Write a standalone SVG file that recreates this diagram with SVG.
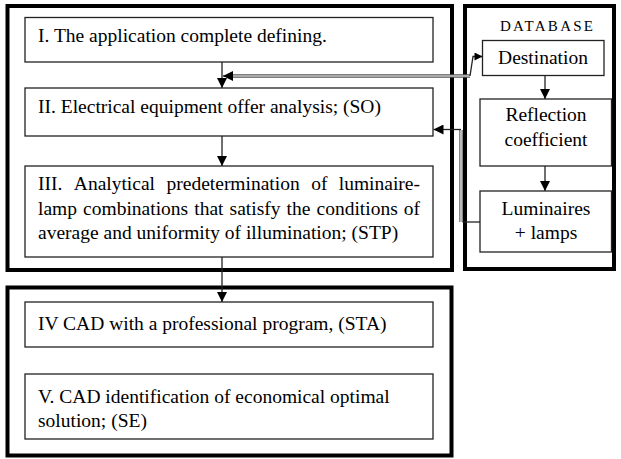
<svg xmlns="http://www.w3.org/2000/svg" width="621" height="459" viewBox="0 0 621 459">
  <defs>
    <marker id="arrow" viewBox="0 0 10 10" markerUnits="userSpaceOnUse" markerWidth="10" markerHeight="10" refX="10" refY="5" orient="auto">
      <path d="M0,0 L10,5 L0,10 z" fill="#000"/>
    </marker>
    <marker id="arrowSmall" viewBox="0 0 10 10" markerUnits="userSpaceOnUse" markerWidth="9" markerHeight="8" refX="10" refY="5" orient="auto">
      <path d="M0,0 L10,5 L0,10 z" fill="#000"/>
    </marker>
  </defs>
  <style>
    .frame { fill: none; stroke: #000; stroke-width: 4; }
    .box { fill: #fff; stroke: #222; stroke-width: 1.3; }
    .link { fill: none; stroke: #222; stroke-width: 1.3; }
    .dbl-outer { fill: none; stroke: #555; stroke-width: 3.4; }
    .dbl-inner { fill: none; stroke: #fff; stroke-width: 1.2; }
  </style>

  <rect width="621" height="459" fill="#fff"/>

  <!-- outer frames -->
  <g id="frames">
    <rect class="frame" x="7.5" y="6" width="444.5" height="264"/>
    <rect class="frame" x="465" y="6" width="149" height="263"/>
    <rect class="frame" x="7.5" y="287.5" width="444" height="168"/>
  </g>

  <!-- connectors -->
  <g id="connectors">
    <path class="link" d="M222,62 V88" marker-end="url(#arrow)"/>
    <path class="link" d="M222,136 V166" marker-end="url(#arrow)"/>
    <path class="link" d="M222,257 V302" marker-end="url(#arrow)"/>
    <path class="link" d="M545,76 V99" marker-end="url(#arrow)"/>
    <path class="link" d="M545,166 V191" marker-end="url(#arrow)"/>

    <!-- database destination link into stage II entry -->
    <path class="dbl-outer" d="M231,76 H470"/>
    <path class="dbl-inner" d="M231,76 H470"/>
    <path class="link" d="M470,76 L473,56.5 H482.5" marker-end="url(#arrowSmall)"/>
    <path class="link" d="M233,76 H223" marker-end="url(#arrow)"/>

    <!-- luminaires + lamps link into stage II -->
    <path class="dbl-outer" d="M461,130 V222"/>
    <path class="dbl-inner" d="M461,130 V222"/>
    <path class="link" d="M462.5,222 H480"/>
    <path class="link" d="M461,129.5 H433.5" marker-end="url(#arrow)"/>
  </g>

  <g id="stage1">
    <rect class="box" x="25" y="17.5" width="408" height="44.5"/>
    <text x="38" y="42" font-family="Times New Roman" font-size="19.5">I. The application complete defining.</text>
  </g>

  <g id="stage2">
    <rect class="box" x="25" y="88" width="408" height="48"/>
    <text x="38" y="113" font-family="Times New Roman" font-size="19.5">II. Electrical equipment offer analysis; (SO)</text>
  </g>

  <g id="stage3">
    <rect class="box" x="25" y="166" width="408" height="91"/>
    <text y="190" font-family="Times New Roman" font-size="19.5"><tspan x="38">III.</tspan><tspan x="73.8">Analytical</tspan><tspan x="166.5">predetermination</tspan><tspan x="311.2">of</tspan></text>
    <text x="420" y="190" text-anchor="end" font-family="Times New Roman" font-size="19.5">luminaire-</text>
    <text y="214.5" font-family="Times New Roman" font-size="19.5"><tspan x="38">lamp</tspan><tspan x="83.1">combinations</tspan><tspan x="194.3">that</tspan><tspan x="229.6">satisfy</tspan><tspan x="286.6">the</tspan><tspan x="316.5">conditions</tspan></text>
    <text x="420" y="214.5" text-anchor="end" font-family="Times New Roman" font-size="19.5">of</text>
    <text x="38" y="239" font-family="Times New Roman" font-size="19.5">average and uniformity of illumination; (STP)</text>
  </g>

  <g id="stage4">
    <rect class="box" x="25" y="302" width="408" height="45"/>
    <text x="38" y="330" font-family="Times New Roman" font-size="19.5">IV CAD with a professional program, (STA)</text>
  </g>

  <g id="stage5">
    <rect class="box" x="25" y="374" width="408" height="65"/>
    <text x="38" y="403" font-family="Times New Roman" font-size="19.5">V. CAD identification of economical optimal</text>
    <text x="38" y="427" font-family="Times New Roman" font-size="19.5">solution; (SE)</text>
  </g>

  <g id="database-title">
    <text x="546.5" y="31" text-anchor="middle" font-family="Times New Roman" font-size="15" textLength="93" lengthAdjust="spacing">DATABASE</text>
  </g>

  <g id="destination">
    <rect class="box" x="482.5" y="40.5" width="121.5" height="35"/>
    <text x="543" y="64" text-anchor="middle" font-family="Times New Roman" font-size="19.5">Destination</text>
  </g>

  <g id="reflection">
    <rect class="box" x="480" y="99" width="131.5" height="67"/>
    <text x="546" y="121" text-anchor="middle" font-family="Times New Roman" font-size="19.5">Reflection</text>
    <text x="546" y="146" text-anchor="middle" font-family="Times New Roman" font-size="19.5">coefficient</text>
  </g>

  <g id="luminaires">
    <rect class="box" x="480" y="191" width="131.5" height="61"/>
    <text x="546" y="215" text-anchor="middle" font-family="Times New Roman" font-size="19.5">Luminaires</text>
    <text x="546" y="239" text-anchor="middle" font-family="Times New Roman" font-size="19.5">+ lamps</text>
  </g>
</svg>
